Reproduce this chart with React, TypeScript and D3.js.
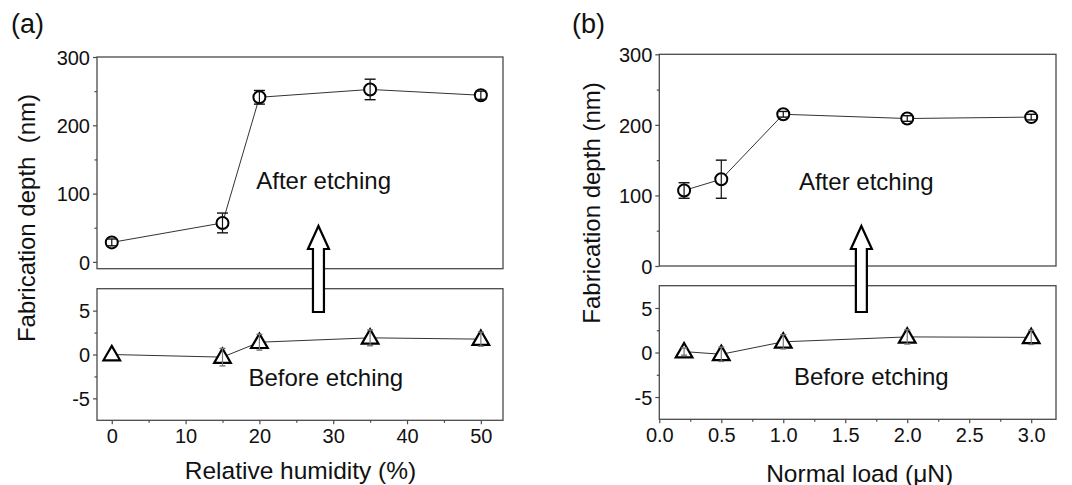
import React, { useEffect, useRef } from "react";
import * as d3 from "d3";

// ---- data ----
const humidity = [0, 15, 20, 35, 50];
const humAfter = [28.5, 57, 241, 252.5, 244];
const humAfterErr = [5, 14.5, 10, 15, 6];
const humBefore = [0, -0.3, 1.4, 1.9, 1.75];
const humBeforeErr = [0, 1.0, 0.9, 0.9, 0.8];

const load = [0.2, 0.5, 1.0, 2.0, 3.0];
const loadAfter = [107, 123, 215, 209, 211];
const loadAfterErr = [11, 27, 4, 4, 4];
const loadBefore = [0.1, -0.2, 1.2, 1.75, 1.7];
const loadBeforeErr = [0.4, 0.8, 0.8, 0.8, 0.8];

const topTicks = [0, 100, 200, 300];
const topMinor = [50, 150, 250];
const botTicks = [-5, 0, 5];
const botMinor = [-2.5, 2.5];
const humTicks = [0, 10, 20, 30, 40, 50];
const humMinor = [5, 15, 25, 35, 45];
const loadTicks = [0, 0.5, 1.0, 1.5, 2.0, 2.5, 3.0];
const loadMinor = [0.25, 0.75, 1.25, 1.75, 2.25, 2.75];

const FONT = "'Liberation Sans', Arial, Helvetica, sans-serif";

interface PanelCfg {
  label: string;
  left: number;
  right: number;
  topY0: number;
  topY1: number;
  botY0: number;
  botY1: number;
  xDomain: [number, number];
  topDomain: [number, number];
  xs: number[];
  after: number[];
  afterErr: number[];
  before: number[];
  beforeErr: number[];
  xTicks: number[];
  xMinor: number[];
  xFmt: (v: number) => string;
  xTitle: string;
  xTitleX: number;
  xTitleY: number;
  yTitle: string;
  yTitleX: number;
  yTitleY: number;
  labelX: number;
  arrowX: number;
  afterPos: [number, number];
  beforePos: [number, number];
  tickLabelY: number;
}

const panels: PanelCfg[] = [
  {
    label: "(a)",
    left: 97,
    right: 503,
    topY0: 57,
    topY1: 268.7,
    botY0: 288.7,
    botY1: 420.3,
    xDomain: [-2, 53],
    topDomain: [-10, 300],
    xs: humidity,
    after: humAfter,
    afterErr: humAfterErr,
    before: humBefore,
    beforeErr: humBeforeErr,
    xTicks: humTicks,
    xMinor: humMinor,
    xFmt: (v) => String(v),
    xTitle: "Relative humidity (%)",
    xTitleX: 300.5,
    xTitleY: 478.5,
    yTitle: "Fabrication depth\u00a0 (nm)",
    yTitleX: 35,
    yTitleY: 218,
    labelX: 11,
    arrowX: 28,
    afterPos: [28.7, 189],
    beforePos: [29, 386],
    tickLabelY: 443,
  },
  {
    label: "(b)",
    left: 659.3,
    right: 1056,
    topY0: 54.3,
    topY1: 266,
    botY0: 285.7,
    botY1: 419.3,
    xDomain: [0, 3.2],
    topDomain: [0, 300],
    xs: load,
    after: loadAfter,
    afterErr: loadAfterErr,
    before: loadBefore,
    beforeErr: loadBeforeErr,
    xTicks: loadTicks,
    xMinor: loadMinor,
    xFmt: (v) => v.toFixed(1),
    xTitle: "Normal load (\u03bcN)",
    xTitleX: 859.7,
    xTitleY: 481.5,
    yTitle: "Fabrication depth (nm)",
    yTitleX: 600,
    yTitleY: 203,
    labelX: 572,
    arrowX: 1.63,
    afterPos: [1.67, 190],
    beforePos: [1.71, 385],
    tickLabelY: 442,
  },
];

export default function App() {
  const ref = useRef<SVGSVGElement | null>(null);

  useEffect(() => {
    const svg = d3.select(ref.current);
    svg.selectAll("*").remove();
    svg.append("rect").attr("width", 1072).attr("height", 485).attr("fill", "#fff");

    panels.forEach((p) => {
      const g = svg.append("g");
      const x = d3.scaleLinear().domain(p.xDomain).range([p.left, p.right]);
      const yT = d3.scaleLinear().domain(p.topDomain).range([p.topY1, p.topY0]);
      const yB = d3.scaleLinear().domain([-7.5, 7.5]).range([p.botY1, p.botY0]);

      const frameColor = "#4a4a4a";
      [
        [p.topY0, p.topY1],
        [p.botY0, p.botY1],
      ].forEach(([y0, y1]) => {
        g.append("rect")
          .attr("x", p.left)
          .attr("y", y0)
          .attr("width", p.right - p.left)
          .attr("height", y1 - y0)
          .attr("fill", "none")
          .attr("stroke", frameColor)
          .attr("stroke-width", 1.3);
      });

      const styleAxis = (sel: any) => {
        sel.select(".domain").remove();
        sel.selectAll(".tick line").attr("stroke", frameColor).attr("stroke-width", 1.2);
        sel
          .selectAll(".tick text")
          .attr("fill", "#111")
          .style("font-family", FONT)
          .style("font-size", "20px");
      };

      const addY = (scale: d3.ScaleLinear<number, number>, major: number[], minor: number[]) => {
        const a = g
          .append("g")
          .attr("transform", `translate(${p.left},0)`)
          .call(d3.axisLeft(scale).tickValues(major).tickSize(4).tickPadding(3).tickFormat((v: any) => String(v)) as any);
        styleAxis(a);
        a.selectAll(".tick text").attr("dy", "0.36em");
        const m = g
          .append("g")
          .attr("transform", `translate(${p.left},0)`)
          .call(d3.axisLeft(scale).tickValues(minor).tickSize(2.5).tickFormat(() => "") as any);
        styleAxis(m);
      };
      addY(yT, topTicks, topMinor);
      addY(yB, botTicks, botMinor);

      const xa = g
        .append("g")
        .attr("transform", `translate(0,${p.botY1})`)
        .call(d3.axisBottom(x).tickValues(p.xTicks).tickSize(4).tickPadding(3).tickFormat(p.xFmt as any) as any);
      styleAxis(xa);
      xa.selectAll(".tick text").attr("dy", null).attr("y", p.tickLabelY - p.botY1);
      const xm = g
        .append("g")
        .attr("transform", `translate(0,${p.botY1})`)
        .call(d3.axisBottom(x).tickValues(p.xMinor).tickSize(2.5).tickFormat(() => "") as any);
      styleAxis(xm);

      const lineT = d3
        .line<number>()
        .x((_, i) => x(p.xs[i]))
        .y((d) => yT(d));
      const lineB = d3
        .line<number>()
        .x((_, i) => x(p.xs[i]))
        .y((d) => yB(d));
      g.append("path").attr("d", lineT(p.after)).attr("fill", "none").attr("stroke", "#333").attr("stroke-width", 1);
      g.append("path").attr("d", lineB(p.before)).attr("fill", "none").attr("stroke", "#333").attr("stroke-width", 1);

      p.after.forEach((v, i) => {
        g.append("circle")
          .attr("cx", x(p.xs[i]))
          .attr("cy", yT(v))
          .attr("r", 6)
          .attr("fill", "#fff")
          .attr("stroke", "#000")
          .attr("stroke-width", 2);
      });
      const tri = d3.symbol().type(d3.symbolTriangle).size(120);
      p.before.forEach((v, i) => {
        g.append("path")
          .attr("d", tri())
          .attr("transform", `translate(${x(p.xs[i])},${yB(v) + 1})`)
          .attr("fill", "#fff")
          .attr("stroke", "#000")
          .attr("stroke-width", 2.2)
          .attr("stroke-linejoin", "miter");
      });

      const errBar = (cx: number, y0: number, y1: number, color: string, cap: number) => {
        g.append("line").attr("x1", cx).attr("x2", cx).attr("y1", y0).attr("y2", y1).attr("stroke", color).attr("stroke-width", 1.2);
        [y0, y1].forEach((yy) =>
          g.append("line")
            .attr("x1", cx - cap)
            .attr("x2", cx + cap)
            .attr("y1", yy)
            .attr("y2", yy)
            .attr("stroke", color)
            .attr("stroke-width", 1.4)
        );
      };
      p.after.forEach((v, i) => {
        if (p.afterErr[i] > 0) errBar(x(p.xs[i]), yT(v - p.afterErr[i]), yT(v + p.afterErr[i]), "#111", 5.5);
      });
      p.before.forEach((v, i) => {
        if (p.beforeErr[i] > 0) errBar(x(p.xs[i]), yB(v - p.beforeErr[i]), yB(v + p.beforeErr[i]), "#777", 3);
      });

      const ax = x(p.arrowX);
      const tipY = 226;
      const headY = 249;
      const bottomY = 312;
      const hw = 10.5;
      const sw = 5.5;
      const arrowPts: [number, number][] = [
        [ax, tipY],
        [ax + hw, headY],
        [ax + sw, headY],
        [ax + sw, bottomY],
        [ax - sw, bottomY],
        [ax - sw, headY],
        [ax - hw, headY],
      ];
      g.append("path")
        .attr("d", d3.line()(arrowPts) + "Z")
        .attr("fill", "#fff")
        .attr("stroke", "#000")
        .attr("stroke-width", 2.2)
        .attr("stroke-linejoin", "miter");

      const txt = (s: string, xx: number, yy: number, size: number, anchor = "middle") =>
        g.append("text")
          .attr("x", xx)
          .attr("y", yy)
          .attr("text-anchor", anchor)
          .style("font-family", FONT)
          .style("font-size", `${size}px`)
          .attr("fill", "#111")
          .text(s);

      txt("After etching", x(p.afterPos[0]), p.afterPos[1], 24);
      txt("Before etching", x(p.beforePos[0]), p.beforePos[1], 24);
      txt(p.xTitle, p.xTitleX, p.xTitleY, 24.5);
      txt(p.label, p.labelX, 33, 27, "start");
      g.append("text")
        .attr("transform", `translate(${p.yTitleX},${p.yTitleY}) rotate(-90)`)
        .attr("text-anchor", "middle")
        .style("font-family", FONT)
        .style("font-size", "24px")
        .attr("fill", "#111")
        .text(p.yTitle);
    });
  }, []);

  return (
    <svg
      ref={ref}
      width={1072}
      height={485}
      style={{ position: "absolute", left: 0, top: 0, display: "block" }}
    />
  );
}
